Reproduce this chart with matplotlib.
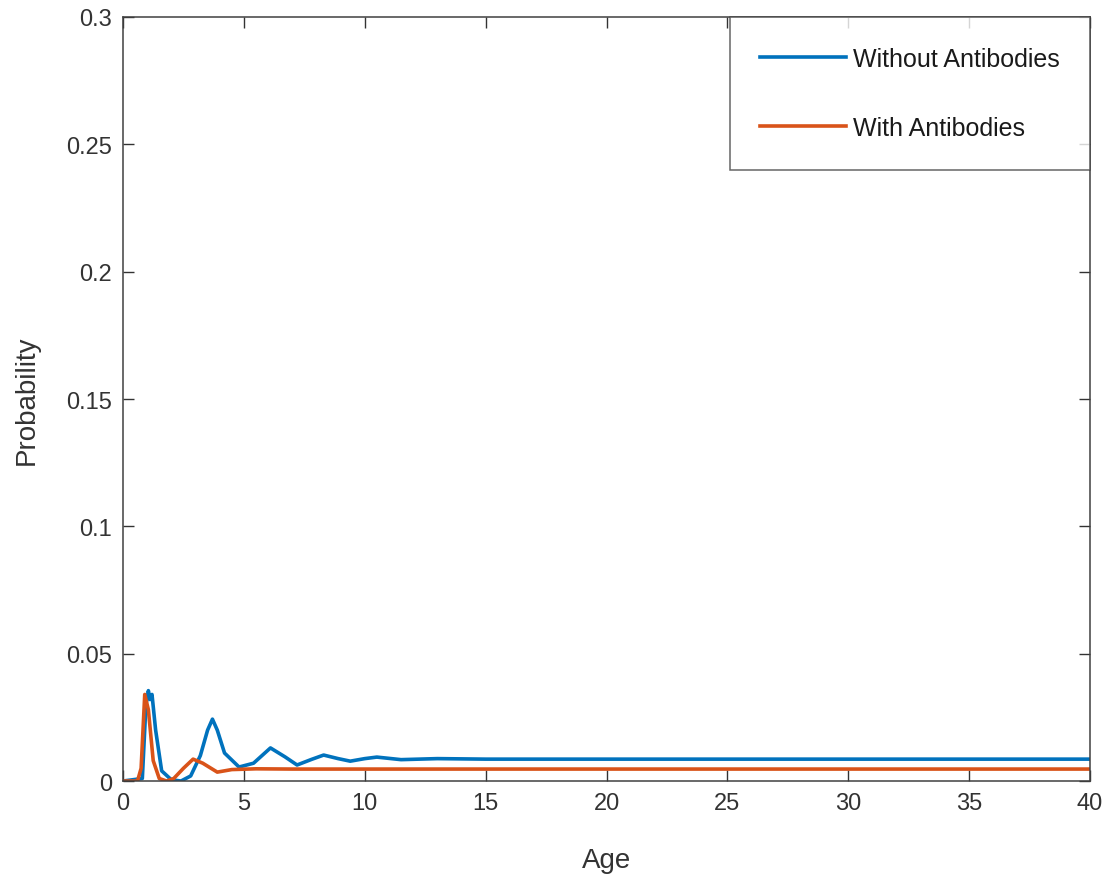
import matplotlib.pyplot as plt

# values
age_without = [0, 0.8, 0.95, 1.05, 1.12, 1.2, 1.35, 1.6, 2.0, 2.4, 2.8, 3.2, 3.5, 3.7, 3.9, 4.2,
               4.8, 5.4, 6.1, 6.7, 7.2, 7.8, 8.3, 8.9, 9.4, 10.0, 10.5, 11.5, 13, 15, 40]
prob_without = [0, 0.001, 0.03, 0.0355, 0.032, 0.034, 0.02, 0.004, 0.0005, 0, 0.002, 0.01, 0.02,
                0.0243, 0.02, 0.011, 0.0055, 0.007, 0.013, 0.0095, 0.0063, 0.0085, 0.0102, 0.0088,
                0.0078, 0.0088, 0.0094, 0.0084, 0.0088, 0.0086, 0.0086]

age_with = [0, 0.6, 0.75, 0.9, 1.05, 1.25, 1.5, 1.8, 2.1, 2.5, 2.9, 3.3, 3.9, 4.5, 5.5, 7, 40]
prob_with = [0, 0, 0.005, 0.034, 0.028, 0.008, 0.001, 0, 0.001, 0.005, 0.0086, 0.007, 0.0035,
             0.0045, 0.0048, 0.0047, 0.0047]

labels = ['Without Antibodies', 'With Antibodies']
xticks = [0, 5, 10, 15, 20, 25, 30, 35, 40]
yticks = [0, 0.05, 0.1, 0.15, 0.2, 0.25, 0.3]
ytick_labels = ['0', '0.05', '0.1', '0.15', '0.2', '0.25', '0.3']

plt.rcParams['font.family'] = ['Liberation Sans', 'DejaVu Sans']

fig = plt.figure(figsize=(11.09, 8.78), dpi=100)
ax = fig.add_axes([0.1109, 0.1093, 0.872, 0.8702])

ax.plot(age_without, prob_without, color='#0072BD', lw=2.6, label=labels[0])
ax.plot(age_with, prob_with, color='#D95319', lw=2.6, label=labels[1])

ax.set_xlim(0, 40)
ax.set_ylim(0, 0.3)
ax.set_xticks(xticks)
ax.set_yticks(yticks)
ax.set_yticklabels(ytick_labels)
ax.tick_params(direction='in', top=True, right=True, length=8, width=1,
               colors='#333333', labelsize=17, pad=8)
for s in ax.spines.values():
    s.set_color('#404040')
    s.set_linewidth(1.1)

ax.set_xlabel('Age', fontsize=20, color='#333333', labelpad=24)
ax.set_ylabel('Probability', fontsize=20, color='#333333', labelpad=19)

leg = ax.legend(loc='upper right', fontsize=18, frameon=True, fancybox=False,
                borderaxespad=0, borderpad=1.2, labelspacing=1.8, handlelength=3.45,
                handletextpad=0.28)
leg.get_frame().set_edgecolor('#404040')
leg.get_frame().set_linewidth(1.1)
for t in leg.get_texts():
    t.set_color('#1a1a1a')

fig.savefig('out.png', dpi=100)
